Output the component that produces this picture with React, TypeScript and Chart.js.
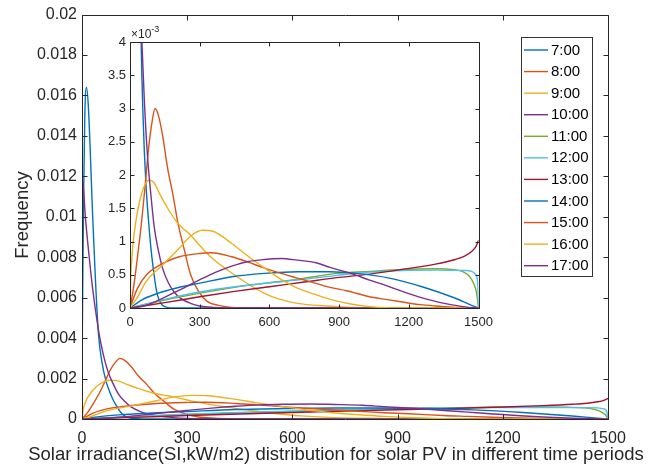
import React, { useEffect, useRef } from 'react';
import { Chart, registerables } from 'chart.js';
Chart.register(...registerables);

const FONT = "'Liberation Sans', Arial, Helvetica, sans-serif";
const TXT = '#262626';

const SERIES_NAMES = ['7:00', '8:00', '9:00', '10:00', '11:00', '12:00', '13:00', '14:00', '15:00', '16:00', '17:00'];
const SERIES_COLORS = ['#0072BD', '#D95319', '#EDB120', '#7E2F8E', '#77AC30', '#4DBEEE', '#A2142F', '#0072BD', '#D95319', '#EDB120', '#7E2F8E'];

const X_TICKS = [0, 300, 600, 900, 1200, 1500];
const Y_TICKS_MAIN = [0, 0.002, 0.004, 0.006, 0.008, 0.01, 0.012, 0.014, 0.016, 0.018, 0.02];
const Y_TICKS_INSET = [0, 0.0005, 0.001, 0.0015, 0.002, 0.0025, 0.003, 0.0035, 0.004];
const INSET_EXP = ['×10', '-3'];
const X_TITLE = 'Solar irradiance(SI,kW/m2) distribution for solar PV in different time periods';
const Y_TITLE = 'Frequency';

const S07: [number, number][] = [[0, 0.0021], [2, 0.0065], [5, 0.0115], [8, 0.0150], [13, 0.0164], [18, 0.0155], [23, 0.0135], [30, 0.0102], [38, 0.0070], [47, 0.0042], [57, 0.0028], [68, 0.0019], [80, 0.0013], [90, 0.0009], [100, 0.0006], [112, 0.0003], [125, 0.00012], [140, 0.00004], [160, 0.00001], [180, 0], [1500, 0]];
const S08: [number, number][] = [[0, 0], [15, 0.0003], [30, 0.0007], [50, 0.0013], [64, 0.0018], [80, 0.0024], [95, 0.0028], [108, 0.0030], [122, 0.0029], [140, 0.0026], [162, 0.0021], [185, 0.0017], [205, 0.0013], [232, 0.0009], [261, 0.0005], [295, 0.00025], [332, 0.0001], [380, 0.00004], [437, 0.00001], [500, 0], [1500, 0]];
const S09: [number, number][] = [[0, 0], [3, 0.00045], [7, 0.0007], [14, 0.001], [21, 0.0012], [35, 0.0015], [50, 0.00172], [65, 0.00186], [82, 0.00192], [100, 0.0019], [130, 0.0017], [162, 0.0015], [200, 0.0013], [233, 0.00118], [254, 0.00112], [297, 0.00095], [350, 0.00076], [424, 0.00056], [500, 0.00038], [579, 0.00022], [636, 0.00014], [720, 0.00007], [847, 0.00003], [950, 0.00001], [1100, 0], [1500, 0]];
const S10: [number, number][] = [[0, 0.0107], [1, 0.0119], [10, 0.0099], [20, 0.0081], [30, 0.0065], [40, 0.0052], [50, 0.0041], [62, 0.0031], [75, 0.0023], [90, 0.0017], [105, 0.0012], [120, 0.0009], [140, 0.0006], [165, 0.00038], [190, 0.00024], [220, 0.00014], [260, 0.00007], [300, 0.00003], [360, 0.00001], [450, 0], [1500, 0]];
const S11: [number, number][] = [[0, 0], [150, 0.00012], [297, 0.00022], [450, 0.00031], [600, 0.00038], [720, 0.00043], [890, 0.00052], [1031, 0.00055], [1172, 0.00058], [1314, 0.00059], [1384, 0.00058], [1430, 0.00055], [1460, 0.00048], [1480, 0.00036], [1492, 0.00022], [1500, 0]];
const S12: [number, number][] = [[0, 0], [150, 0.00013], [297, 0.00024], [450, 0.00032], [600, 0.00038], [720, 0.00042], [890, 0.00049], [1031, 0.00054], [1172, 0.000565], [1314, 0.00057], [1440, 0.000565], [1470, 0.00055], [1488, 0.0005], [1496, 0.0004], [1500, 0]];
const S13: [number, number][] = [[0, 0], [150, 0.00008], [300, 0.00017], [450, 0.00025], [600, 0.00032], [750, 0.00039], [900, 0.00046], [1031, 0.00051], [1172, 0.00058], [1314, 0.00066], [1400, 0.00073], [1440, 0.00078], [1470, 0.00085], [1488, 0.00092], [1496, 0.00098], [1500, 0.00102]];
const S14: [number, number][] = [[0, 0], [50, 0.00012], [120, 0.00022], [200, 0.0003], [297, 0.00037], [438, 0.00047], [579, 0.00052], [720, 0.000545], [861, 0.000545], [975, 0.00052], [1116, 0.00045], [1257, 0.00032], [1398, 0.00015], [1470, 0.00004], [1500, 0]];
const S15: [number, number][] = [[0, 0], [30, 0.00028], [71, 0.0005], [141, 0.00067], [212, 0.00077], [300, 0.00082], [350, 0.00083], [438, 0.00077], [500, 0.0007], [579, 0.0006], [650, 0.00052], [720, 0.00045], [800, 0.00037], [861, 0.00031], [932, 0.00026], [1031, 0.00017], [1100, 0.00013], [1172, 0.00009], [1250, 0.00005], [1314, 0.00003], [1400, 0.00001], [1455, 0], [1500, 0]];
const S16: [number, number][] = [[0, 0], [30, 0.00015], [70, 0.0004], [141, 0.00065], [212, 0.0009], [260, 0.00108], [311, 0.00117], [360, 0.00115], [438, 0.00097], [500, 0.0008], [579, 0.0006], [650, 0.00043], [720, 0.0003], [800, 0.0002], [861, 0.00013], [950, 0.00006], [1031, 0.00002], [1100, 0.000005], [1150, 0], [1500, 0]];
const S17: [number, number][] = [[0, 0], [50, 0.00002], [100, 0.00008], [212, 0.00027], [297, 0.00042], [370, 0.00054], [438, 0.00063], [510, 0.0007], [579, 0.00073], [650, 0.000745], [720, 0.00072], [800, 0.00068], [861, 0.00061], [950, 0.00052], [1031, 0.00042], [1100, 0.00034], [1172, 0.00025], [1250, 0.00016], [1314, 0.0001], [1400, 0.00004], [1455, 0.00001], [1500, 0]];

const SERIES = [S07, S08, S09, S10, S11, S12, S13, S14, S15, S16, S17];

function makeDatasets() {
  return SERIES.map((pts, i) => ({
    label: SERIES_NAMES[i],
    data: pts.map(([x, y]) => ({ x, y })),
    borderColor: SERIES_COLORS[i],
    backgroundColor: SERIES_COLORS[i],
    borderWidth: 1.4,
    pointRadius: 0,
    fill: false,
    cubicInterpolationMode: 'monotone' as const,
    order: SERIES.length - 1 - i,
  }));
}

const framePlugin = {
  id: 'frame',
  beforeDatasetsDraw(chart: any, _a: any, opts: any) {
    if (!opts.whiteBg) return;
    const { ctx, chartArea: a } = chart;
    ctx.save();
    ctx.fillStyle = '#fff';
    ctx.fillRect(a.left, a.top, a.right - a.left, a.bottom - a.top);
    ctx.restore();
  },
  afterDatasetsDraw(chart: any, _a: any, opts: any) {
    const { ctx, chartArea: a } = chart;
    const L = opts.tickLen ?? 5;
    const xs = chart.scales.x;
    const ys = chart.scales.y;
    const l = Math.round(a.left) + 0.5;
    const r = Math.round(a.right) + 0.5;
    const t = Math.round(a.top) + 0.5;
    const b = Math.round(a.bottom) + 0.5;
    ctx.save();
    ctx.strokeStyle = TXT;
    ctx.lineWidth = 1;
    ctx.beginPath();
    ctx.rect(l, t, r - l, b - t);
    for (const v of opts.xTicks as number[]) {
      const px = Math.round(xs.getPixelForValue(v)) + 0.5;
      ctx.moveTo(px, b); ctx.lineTo(px, b - L);
      ctx.moveTo(px, t); ctx.lineTo(px, t + L);
    }
    for (const v of opts.yTicks as number[]) {
      const py = Math.round(ys.getPixelForValue(v)) + 0.5;
      ctx.moveTo(l, py); ctx.lineTo(l + L, py);
      ctx.moveTo(r, py); ctx.lineTo(r - L, py);
    }
    ctx.stroke();
    ctx.restore();
  },
};

const mainDecor = {
  id: 'mainDecor',
  afterDraw(chart: any) {
    const ctx = chart.ctx;
    ctx.save();
    ctx.fillStyle = TXT;
    ctx.font = `18.5px ${FONT}`;
    ctx.textAlign = 'center';
    ctx.textBaseline = 'alphabetic';
    ctx.fillText(X_TITLE, 336, 460);
    ctx.save();
    ctx.translate(28, 215);
    ctx.rotate(-Math.PI / 2);
    ctx.fillText(Y_TITLE, 0, 0);
    ctx.restore();

    // legend
    const lx = 521, ly = 37, lw = 71, lh = 239;
    ctx.fillStyle = '#fff';
    ctx.fillRect(lx, ly, lw, lh);
    ctx.strokeStyle = '#333';
    ctx.lineWidth = 1;
    ctx.strokeRect(lx + 0.5, ly + 0.5, lw, lh);
    ctx.font = `15px ${FONT}`;
    ctx.textAlign = 'left';
    ctx.textBaseline = 'middle';
    SERIES_NAMES.forEach((name, i) => {
      const y = 50 + i * 21.57;
      ctx.strokeStyle = SERIES_COLORS[i];
      ctx.lineWidth = 1.4;
      ctx.beginPath();
      ctx.moveTo(524, y);
      ctx.lineTo(548, y);
      ctx.stroke();
      ctx.fillStyle = '#000';
      ctx.fillText(name, 551, y + 0.5);
    });
    ctx.restore();
  },
};

const insetDecor = {
  id: 'insetDecor',
  afterDraw(chart: any) {
    const ctx = chart.ctx;
    const a = chart.chartArea;
    ctx.save();
    ctx.fillStyle = TXT;
    ctx.textAlign = 'left';
    ctx.textBaseline = 'alphabetic';
    ctx.font = `12px ${FONT}`;
    ctx.fillText(INSET_EXP[0], a.left + 1, a.top - 4);
    const w = ctx.measureText(INSET_EXP[0]).width;
    ctx.font = `9px ${FONT}`;
    ctx.fillText(INSET_EXP[1], a.left + 1 + w, a.top - 10);
    ctx.restore();
  },
};

function fmtMain(v: number) {
  return String(Number(v.toFixed(3)));
}
function fmtInset(v: number) {
  return String(Number((v * 1000).toFixed(1)));
}
function fmtX(v: number) {
  return String(Math.round(v));
}

export default function App() {
  const mainRef = useRef<HTMLCanvasElement>(null);
  const insetRef = useRef<HTMLCanvasElement>(null);

  useEffect(() => {
    const noGrid = { display: false, drawTicks: false, tickLength: 0 };
    const main = new Chart(mainRef.current as HTMLCanvasElement, {
      type: 'line',
      data: { datasets: makeDatasets() as any },
      options: {
        animation: false,
        responsive: false,
        events: [],
        layout: { padding: { left: 0, right: 54, top: 12, bottom: 0 } },
        plugins: {
          legend: { display: false },
          tooltip: { enabled: false },
          frame: { tickLen: 5, xTicks: X_TICKS, yTicks: Y_TICKS_MAIN },
        } as any,
        scales: {
          x: {
            type: 'linear',
            min: 0,
            max: 1500,
            grid: noGrid,
            border: { display: false },
            afterBuildTicks: (s: any) => { s.ticks = X_TICKS.map((value) => ({ value })); },
            afterFit: (s: any) => { s.height = 55; },
            ticks: { font: { size: 16, family: FONT }, color: TXT, padding: 10, maxRotation: 0, autoSkip: false, callback: (v: any) => fmtX(Number(v)) },
          },
          y: {
            min: 0,
            max: 0.02,
            grid: noGrid,
            border: { display: false },
            afterBuildTicks: (s: any) => { s.ticks = Y_TICKS_MAIN.map((value) => ({ value })); },
            afterFit: (s: any) => { s.width = 82; },
            ticks: { font: { size: 16, family: FONT }, color: TXT, padding: 5, autoSkip: false, callback: (v: any) => fmtMain(Number(v)) },
          },
        },
      },
      plugins: [framePlugin, mainDecor],
    });

    const inset = new Chart(insetRef.current as HTMLCanvasElement, {
      type: 'line',
      data: { datasets: makeDatasets() as any },
      options: {
        animation: false,
        responsive: false,
        events: [],
        layout: { padding: { left: 0, right: 18, top: 22, bottom: 0 } },
        plugins: {
          legend: { display: false },
          tooltip: { enabled: false },
          frame: { tickLen: 4, xTicks: X_TICKS, yTicks: Y_TICKS_INSET, whiteBg: true },
        } as any,
        scales: {
          x: {
            type: 'linear',
            min: 0,
            max: 1500,
            grid: noGrid,
            border: { display: false },
            afterBuildTicks: (s: any) => { s.ticks = X_TICKS.map((value) => ({ value })); },
            afterFit: (s: any) => { s.height = 24; },
            ticks: { font: { size: 13, family: FONT }, color: TXT, padding: 7, maxRotation: 0, autoSkip: false, callback: (v: any) => fmtX(Number(v)) },
          },
          y: {
            min: 0,
            max: 0.004,
            grid: noGrid,
            border: { display: false },
            afterBuildTicks: (s: any) => { s.ticks = Y_TICKS_INSET.map((value) => ({ value })); },
            afterFit: (s: any) => { s.width = 40; },
            ticks: { font: { size: 13, family: FONT }, color: TXT, padding: 4, autoSkip: false, callback: (v: any) => fmtInset(Number(v)) },
          },
        },
      },
      plugins: [framePlugin, insetDecor],
    });

    return () => {
      main.destroy();
      inset.destroy();
    };
  }, []);

  return (
    <div style={{ position: 'absolute', left: 0, top: 0, width: 662, height: 474, background: '#fff' }}>
      <canvas ref={mainRef} width={662} height={474} style={{ position: 'absolute', left: 0, top: 0 }} />
      <canvas ref={insetRef} width={410} height={312} style={{ position: 'absolute', left: 90, top: 20 }} />
    </div>
  );
}
